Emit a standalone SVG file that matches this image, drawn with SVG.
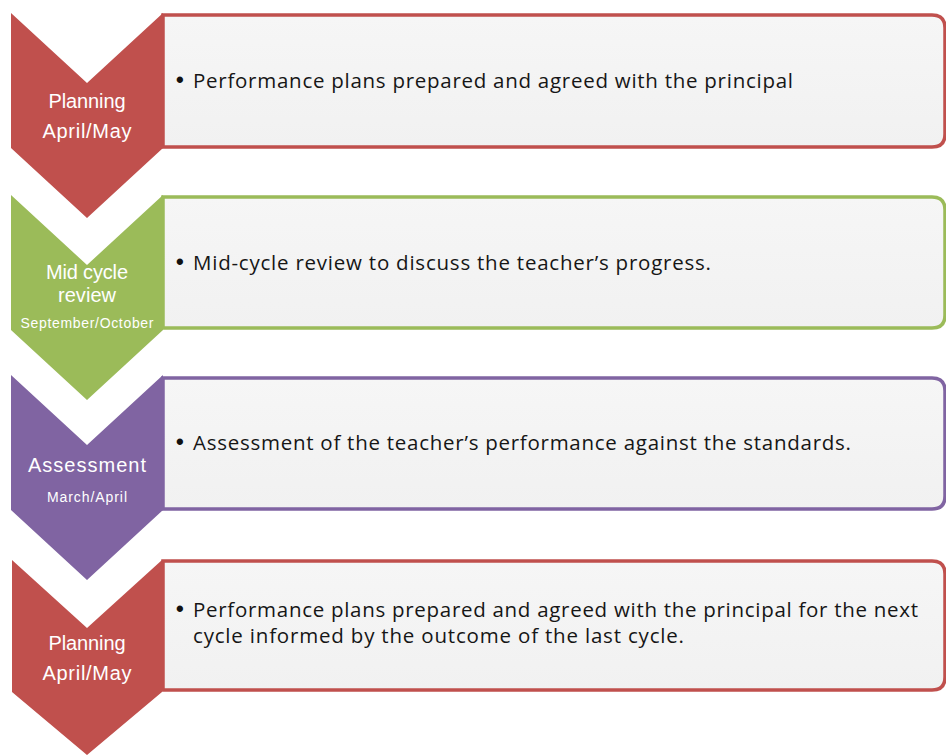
<svg xmlns="http://www.w3.org/2000/svg" width="946" height="756" viewBox="0 0 946 756">
<defs>
<linearGradient id="boxfill" x1="0" y1="0" x2="0" y2="1">
<stop offset="0" stop-color="#F6F6F6"/>
<stop offset="1" stop-color="#F1F1F1"/>
</linearGradient>
</defs>
<style>
.box{fill:url(#boxfill);stroke-width:3.5}
.red{fill:#C0504D}
.green{fill:#9BBB59}
.purple{fill:#8064A2}
.sred{stroke:#C0504D}
.sgreen{stroke:#9BBB59}
.spurple{stroke:#8064A2}
.lab{font-family:"Liberation Sans",Arial,sans-serif;fill:#FFFFFF;text-anchor:middle}
.big{font-size:20px}
.small{font-size:14px}
.body{font-family:"Open Sans","Liberation Sans",sans-serif;font-size:20.5px;fill:#161616}
.dot{font-family:"Liberation Sans",Arial,sans-serif;font-size:22px;font-weight:bold;fill:#111111}
</style>
<rect width="946" height="756" fill="#FFFFFF"/>
<g id="stage1">
<path class="box sred" d="M163,15 H932 Q945,15 945,28 V134 Q945,147 932,147 H163 Z"/>
<path class="red" d="M11,13 L87,83 L163,13 L163,148 L87,218 L11,148 Z"/>
<text class="lab big" x="87" y="108" textLength="77">Planning</text>
<text class="lab big" x="87" y="138" textLength="89">April/May</text>
<text class="dot" x="176" y="87">•</text>
<text class="body" x="193" y="88" textLength="600">Performance plans prepared and agreed with the principal</text>
</g>
<g id="stage2">
<path class="box sgreen" d="M163,197 H932 Q945,197 945,210 V315 Q945,328 932,328 H163 Z"/>
<path class="green" d="M11,195 L87,265 L163,195 L163,330 L87,400 L11,330 Z"/>
<text class="lab big" x="87" y="279" textLength="82">Mid cycle</text>
<text class="lab big" x="87" y="302" textLength="58">review</text>
<text class="lab small" x="87" y="328" textLength="133">September/October</text>
<text class="dot" x="176" y="269">•</text>
<text class="body" x="193" y="270" textLength="518">Mid-cycle review to discuss the teacher’s progress.</text>
</g>
<g id="stage3">
<path class="box spurple" d="M163,378 H932 Q945,378 945,391 V496 Q945,509 932,509 H163 Z"/>
<path class="purple" d="M11,375 L87,445 L163,375 L163,510 L87,580 L11,510 Z"/>
<text class="lab big" x="87" y="472" textLength="118">Assessment</text>
<text class="lab small" x="87" y="502" textLength="80">March/April</text>
<text class="dot" x="176" y="449">•</text>
<text class="body" x="193" y="450" textLength="658">Assessment of the teacher’s performance against the standards.</text>
</g>
<g id="stage4">
<path class="box sred" d="M163,561 H932 Q945,561 945,574 V677 Q945,690 932,690 H163 Z"/>
<path class="red" d="M12,560 L87,628 L162,560 L162,692 L87,755 L12,692 Z"/>
<text class="lab big" x="87" y="650" textLength="77">Planning</text>
<text class="lab big" x="87" y="680" textLength="89">April/May</text>
<text class="dot" x="176" y="616">•</text>
<text class="body" x="193" y="617" textLength="725">Performance plans prepared and agreed with the principal for the next</text>
<text class="body" x="193" y="643" textLength="491">cycle informed by the outcome of the last cycle.</text>
</g>
<g id="connectors"></g>
</svg>
